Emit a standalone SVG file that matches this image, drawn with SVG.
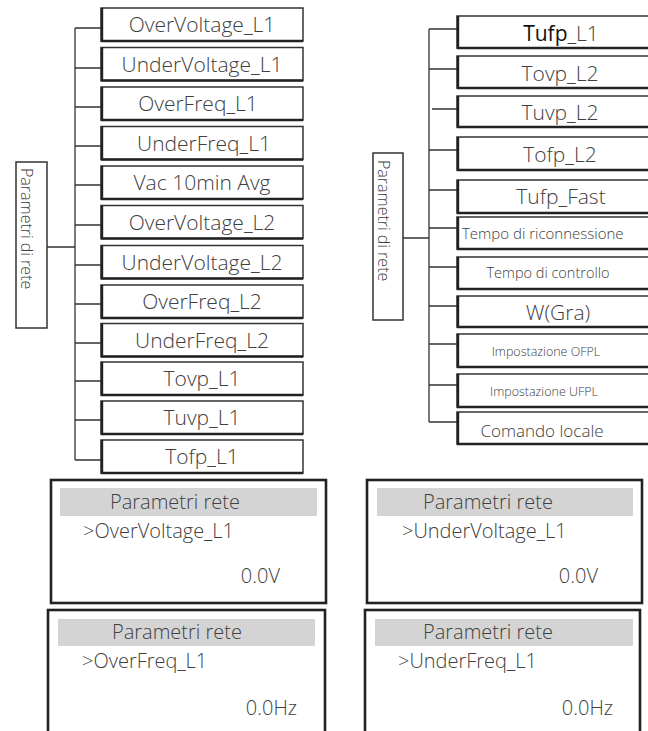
<svg xmlns="http://www.w3.org/2000/svg" width="648" height="731" viewBox="0 0 648 731">
<style>
text{font-family:"Open Sans","Noto Sans","Liberation Sans",sans-serif;fill:#404040;font-weight:300}
.t{font-size:21px;text-anchor:middle}
.box{fill:#fff;stroke:#333;stroke-width:1.5}
.edge{stroke:#222;stroke-width:2.4;fill:none}
.root{fill:#fff;stroke:#333;stroke-width:1.5}
.rt{font-size:16px}
.conn{stroke:#333;stroke-width:1.3;fill:none}
.scr{fill:#fff;stroke:#222;stroke-width:2.6}
.hdr{fill:#d4d4d4}
.s{font-size:20px}
</style>
<rect width="648" height="731" fill="#fff"/>
<g id="connectors">
<path class="conn" d="M47 247H75M75 28V460M75 28H101M75 68H101M75 107H101M75 146H101M75 185H101M75 225H101M75 265H101M75 304H101M75 343H101M75 381H101M75 420H101M75 460H101"/>
<path class="conn" d="M403 238H429M429 29V422M429 29H457M429 69H457M432 109H457M429 150H457M429 190H457M429 228H457M429 267H457M429 306H457M429 344H457M429 385H457M429 422H457"/>
</g>
<g id="root-left"><rect class="root" x="16" y="162" width="31" height="166"/><text class="rt" transform="translate(21,168) rotate(90)">Parametri di rete</text></g>
<g id="root-right"><rect class="root" x="373" y="153" width="30" height="167"/><text class="rt" transform="translate(378,160) rotate(90)">Parametri di rete</text></g>
<g id="l1"><rect class="box" x="101" y="8" width="202" height="33"/><path class="edge" d="M102 8V41H303"/><text class="t" x="202" y="32">OverVoltage_L1</text></g>
<g id="l2"><rect class="box" x="101" y="47.5" width="202" height="33"/><path class="edge" d="M102 47.5V80.5H303"/><text class="t" x="202" y="71.5">UnderVoltage_L1</text></g>
<g id="l3"><rect class="box" x="101" y="87" width="202" height="33"/><path class="edge" d="M102 87V120H303"/><text class="t" x="198" y="111">OverFreq_L1</text></g>
<g id="l4"><rect class="box" x="101" y="126.5" width="202" height="33"/><path class="edge" d="M102 126.5V159.5H303"/><text class="t" x="204" y="150.5">UnderFreq_L1</text></g>
<g id="l5"><rect class="box" x="101" y="166" width="202" height="33"/><path class="edge" d="M102 166V199H303"/><text class="t" x="202" y="190">Vac 10min Avg</text></g>
<g id="l6"><rect class="box" x="101" y="205.5" width="202" height="33"/><path class="edge" d="M102 205.5V238.5H303"/><text class="t" x="202" y="229.5">OverVoltage_L2</text></g>
<g id="l7"><rect class="box" x="101" y="245.5" width="202" height="33"/><path class="edge" d="M102 245.5V278.5H303"/><text class="t" x="202" y="269.5">UnderVoltage_L2</text></g>
<g id="l8"><rect class="box" x="101" y="285" width="202" height="33"/><path class="edge" d="M102 285V318H303"/><text class="t" x="202" y="309">OverFreq_L2</text></g>
<g id="l9"><rect class="box" x="101" y="323.5" width="202" height="33"/><path class="edge" d="M102 323.5V356.5H303"/><text class="t" x="202" y="347.5">UnderFreq_L2</text></g>
<g id="l10"><rect class="box" x="101" y="362" width="202" height="33"/><path class="edge" d="M102 362V395H303"/><text class="t" x="202" y="386">Tovp_L1</text></g>
<g id="l11"><rect class="box" x="101" y="401" width="202" height="33"/><path class="edge" d="M102 401V434H303"/><text class="t" x="202" y="425">Tuvp_L1</text></g>
<g id="l12"><rect class="box" x="101" y="440" width="202" height="33"/><path class="edge" d="M102 440V473H303"/><text class="t" x="202" y="464">Tofp_L1</text></g>
<g id="r1"><rect class="box" x="457" y="16" width="215" height="32"/><path class="edge" d="M458 16V48H648"/><text class="t" x="561" y="41"><tspan fill="#111" font-weight="400">Tufp</tspan>_L1</text></g>
<g id="r2"><rect class="box" x="457" y="56" width="215" height="32"/><path class="edge" d="M458 56V88H648"/><text class="t" x="560" y="81">Tovp_L2</text></g>
<g id="r3"><rect class="box" x="457" y="96" width="215" height="31"/><path class="edge" d="M458 96V127H648"/><text class="t" x="560" y="120">Tuvp_L2</text></g>
<g id="r4"><rect class="box" x="457" y="137" width="215" height="33"/><path class="edge" d="M458 137V170H648"/><text class="t" x="560" y="162">Tofp_L2</text></g>
<g id="r5"><rect class="box" x="457" y="180" width="215" height="33"/><path class="edge" d="M458 180V213H648"/><text class="t" x="561" y="204">Tufp_Fast</text></g>
<g id="r6"><rect class="box" x="457" y="217" width="215" height="32"/><path class="edge" d="M458 217V249H648"/><text x="462" y="238.5" style="font-size:15px">Tempo di riconnessione</text></g>
<g id="r7"><rect class="box" x="457" y="257" width="215" height="32"/><path class="edge" d="M458 257V289H648"/><text x="548" y="278" style="font-size:14.5px;text-anchor:middle">Tempo di controllo</text></g>
<g id="r8"><rect class="box" x="457" y="296" width="215" height="31"/><path class="edge" d="M458 296V327H648"/><text class="t" x="558" y="320">W(Gra)</text></g>
<g id="r9"><rect class="box" x="457" y="334" width="215" height="33"/><path class="edge" d="M458 334V367H648"/><text x="546" y="355.5" style="font-size:12.5px;text-anchor:middle">Impostazione OFPL</text></g>
<g id="r10"><rect class="box" x="457" y="374" width="215" height="33"/><path class="edge" d="M458 374V407H648"/><text x="544" y="395.5" style="font-size:12.5px;text-anchor:middle">Impostazione UFPL</text></g>
<g id="r11"><rect class="box" x="457" y="412" width="215" height="32"/><path class="edge" d="M458 412V444H648"/><text x="542" y="437" style="font-size:17px;text-anchor:middle">Comando locale</text></g>
<g id="screen1"><rect class="scr" x="51" y="480" width="275" height="123"/><rect class="hdr" x="60" y="488" width="257" height="28"/><text class="s" x="110" y="509">Parametri rete</text><text class="s" x="83" y="538">&gt;OverVoltage_L1</text><text class="s" x="280" y="583" text-anchor="end">0.0V</text></g>
<g id="screen2"><rect class="scr" x="367" y="480" width="275" height="123"/><rect class="hdr" x="377" y="488" width="256" height="28"/><text class="s" x="423" y="509">Parametri rete</text><text class="s" x="402" y="538">&gt;UnderVoltage_L1</text><text class="s" x="598" y="583" text-anchor="end">0.0V</text></g>
<g id="screen3"><rect class="scr" x="48" y="610" width="277" height="140"/><rect class="hdr" x="58" y="619" width="257" height="27"/><text class="s" x="112" y="639">Parametri rete</text><text class="s" x="82" y="668">&gt;OverFreq_L1</text><text class="s" x="297" y="715" text-anchor="end">0.0Hz</text></g>
<g id="screen4"><rect class="scr" x="365" y="610" width="275" height="140"/><rect class="hdr" x="375" y="619" width="258" height="27"/><text class="s" x="423" y="639">Parametri rete</text><text class="s" x="398" y="668">&gt;UnderFreq_L1</text><text class="s" x="613" y="715" text-anchor="end">0.0Hz</text></g>
</svg>
